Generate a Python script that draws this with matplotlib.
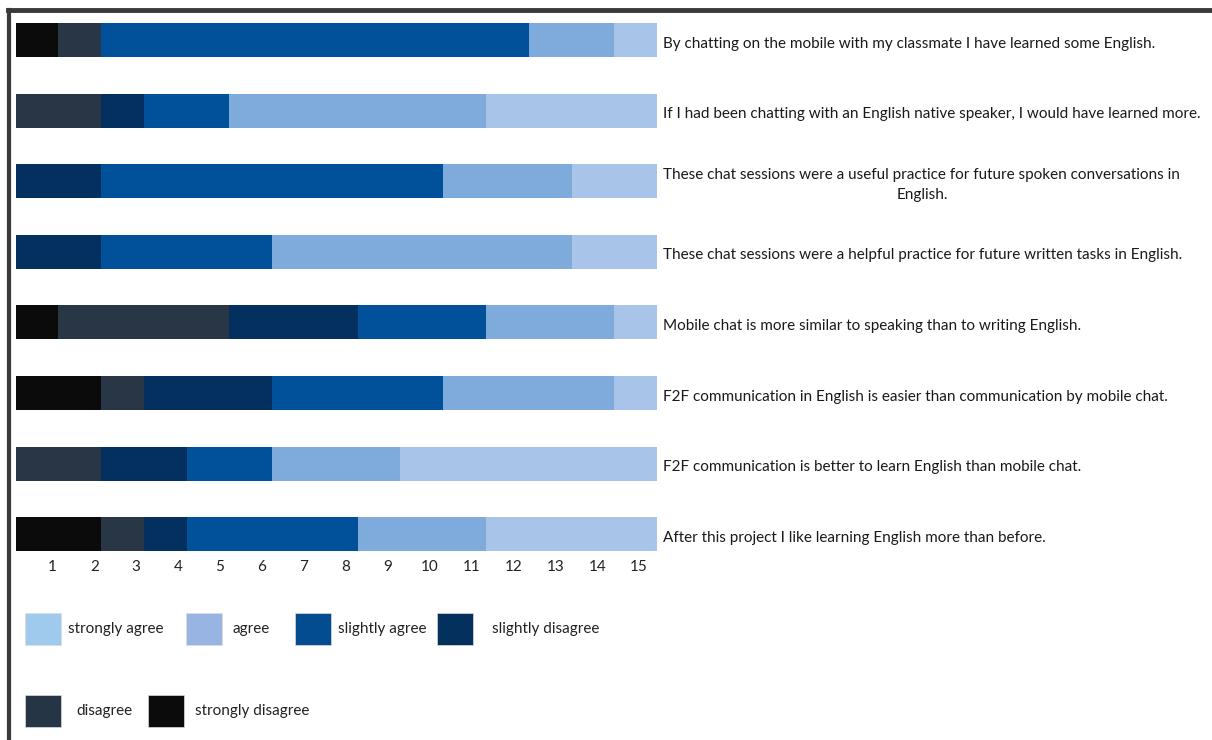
import matplotlib.pyplot as plt
from matplotlib.patches import Rectangle
from matplotlib.lines import Line2D
import numpy as np

plt.rcParams['font.family'] = ['Lato', 'DejaVu Sans']

statements = [
    "By chatting on the mobile with my classmate I have learned some English.",
    "If I had been chatting with an English native speaker, I would have learned more.",
    "These chat sessions were a useful practice for future spoken conversations in\nEnglish.",
    "These chat sessions were a helpful practice for future written tasks in English.",
    "Mobile chat is more similar to speaking than to writing English.",
    "F2F communication in English is easier than communication by mobile chat.",
    "F2F communication is better to learn English than mobile chat.",
    "After this project I like learning English more than before.",
]

# counts per answer, one entry per statement (top to bottom)
strongly_disagree = [1, 0, 0, 0, 1, 2, 0, 2]
disagree          = [1, 2, 0, 0, 4, 1, 2, 1]
slightly_disagree = [0, 1, 2, 2, 3, 3, 2, 1]
slightly_agree    = [10, 2, 8, 4, 3, 4, 2, 4]
agree             = [2, 6, 3, 7, 3, 4, 3, 3]
strongly_agree    = [1, 4, 2, 2, 1, 1, 6, 4]

tick_labels = [str(i) for i in range(1, 16)]

series = [
    ("strongly disagree", strongly_disagree, "#0b0b0b", "#0b0b0b"),
    ("disagree", disagree, "#283645", "#263546"),
    ("slightly disagree", slightly_disagree, "#03305f", "#04305e"),
    ("slightly agree", slightly_agree, "#01509a", "#024c8f"),
    ("agree", agree, "#7eabdc", "#98b4e2"),
    ("strongly agree", strongly_agree, "#a8c4e8", "#9fcaee"),
]

fig = plt.figure(figsize=(12.12, 7.4), dpi=100)
ax = fig.add_axes([0.0129, 0.2486, 0.5292, 0.745])

y = np.arange(len(statements))
left = np.zeros(len(statements))
for name, vals, col, _ in series:
    ax.barh(y, vals, left=left, height=0.48, color=col, edgecolor='none')
    left += np.array(vals)

ax.set_xlim(0, 15)
ax.set_ylim(7.31, -0.5)
ax.set_yticks([])
# labels in the original sit a little left of each unit mark
ax.set_xticks(np.arange(1, 16) * 0.98 - 0.12)
ax.set_xticklabels(tick_labels, fontsize=11, color='#222222')
ax.tick_params(axis='x', length=0, pad=3)
for s in ax.spines.values():
    s.set_visible(False)

# statement labels to the right of each bar
for i, txt in enumerate(statements):
    ax.text(15.15, i + 0.05, txt, ha='left', va='center', multialignment='center',
            fontsize=11, color='#1a1a1a', linespacing=1.55)

# legend drawn by hand to keep the original spacing
leg_pos = [(25, 629, 68), (186, 629, 232), (295, 629, 338), (437, 629, 492),
           (25, 711, 76), (148, 711, 195)]
order = [5, 4, 3, 2, 1, 0]
W, H = 1212, 740
for (px, py, tx), k in zip(leg_pos, order):
    name, _, _, lcol = series[k]
    fig.add_artist(Rectangle((px / W, 1 - (py + 16) / H), 36 / W, 32 / H,
                             transform=fig.transFigure, facecolor=lcol,
                             edgecolor='#dddddd', linewidth=0.5))
    fig.text(tx / W, 1 - py / H, name, ha='left', va='center',
             fontsize=11, color='#222222')

# dark frame lines of the original screenshot
fig.add_artist(Line2D([8 / W, 1], [1 - 10 / H, 1 - 10 / H], transform=fig.transFigure,
                      color='#3a3a3a', linewidth=3.5))
fig.add_artist(Line2D([8.5 / W, 8.5 / W], [0, 1 - 10 / H], transform=fig.transFigure,
                      color='#3a3a3a', linewidth=3))

fig.savefig('out.png', dpi=100)
